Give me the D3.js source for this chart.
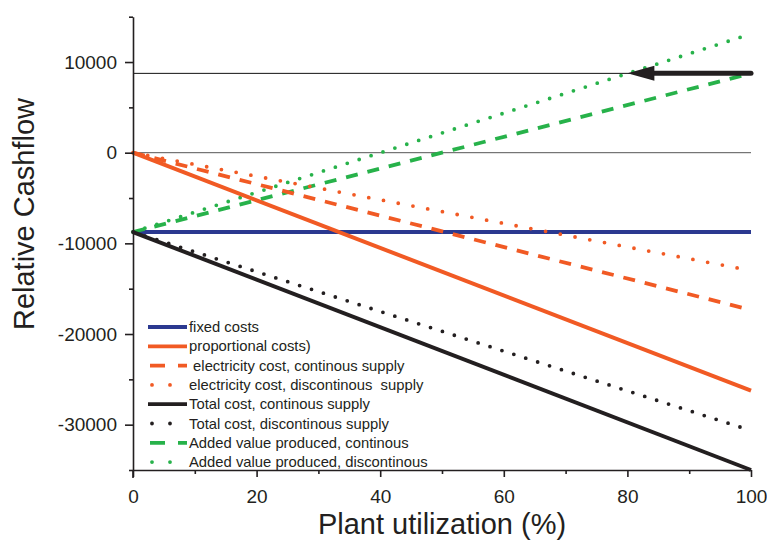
<!DOCTYPE html>
<html>
<head>
<meta charset="utf-8">
<script src="https://cdn.jsdelivr.net/npm/d3@7"></script>
<style>
  body { margin: 0; background: #fff; }
  svg { display: block; font-family: "Liberation Sans", Arial, sans-serif; }
</style>
</head>
<body>
<svg id="chart" width="767" height="542"></svg>
<script>
// Plant utilization (%) – all series are straight lines between 0 % and 100 %
const utilization = [0, 100];

const fixedCosts          = [-8750, -8750];
const proportionalCosts   = [0, -26250];
const elecCostCont        = [0, -17350];
const elecCostDisc        = [0, -13000];
const totalCostCont       = [-8750, -35000];
const totalCostDisc       = [-8750, -30650];
const addedValueCont      = [-8750, 8750];
const addedValueDisc      = [-8750, 13100];

const breakEvenLevel = 8750;   // added value at full continuous operation
const arrowTipUtil   = 80;     // where the discontinuous line reaches that level

const xTicks = [0, 20, 40, 60, 80, 100];
const yTicks = [10000, 0, -10000, -20000, -30000];

const legendLabels = [
  "fixed costs",
  "proportional costs)",
  " electricity cost, continous supply",
  "electricity cost, discontinous  supply",
  "Total cost, continous supply",
  "Total cost, discontinous supply",
  "Added value produced, continous",
  "Added value produced, discontinous"
];

const C = { blue: "#2b3990", orange: "#f15a24", black: "#231f20", green: "#27b24a" };

const series = [
  { name: legendLabels[0], values: fixedCosts,        color: C.blue,   style: "solid" },
  { name: legendLabels[6], values: addedValueCont,    color: C.green,  style: "dash" },
  { name: legendLabels[7], values: addedValueDisc,    color: C.green,  style: "dot" },
  { name: legendLabels[2], values: elecCostCont,      color: C.orange, style: "dash" },
  { name: legendLabels[3], values: elecCostDisc,      color: C.orange, style: "dotwide" },
  { name: legendLabels[1], values: proportionalCosts, color: C.orange, style: "solid" },
  { name: legendLabels[5], values: totalCostDisc,     color: C.black,  style: "dot" },
  { name: legendLabels[4], values: totalCostCont,     color: C.black,  style: "solid" }
];

const dashFor = { solid: null, dash: "12,10", dot: "0,12.5", dotwide: "0,15" };

const svg = d3.select("#chart");
const m = { left: 133, right: 751, top: 16.7, bottom: 470 };

const x = d3.scaleLinear().domain([0, 100]).range([m.left, m.right]);
const y = d3.scaleLinear().domain([-35000, 15000]).range([m.bottom, m.top]);

// reference lines
const g = svg.append("g");
g.append("line")
  .attr("x1", x(0)).attr("x2", x(100)).attr("y1", y(0)).attr("y2", y(0))
  .attr("stroke", "#555").attr("stroke-width", 1);
g.append("line")
  .attr("x1", x(0)).attr("x2", x(100)).attr("y1", y(breakEvenLevel)).attr("y2", y(breakEvenLevel))
  .attr("stroke", "#111").attr("stroke-width", 1);

// series lines
const line = d3.line().x((d, i) => x(utilization[i])).y(d => y(d));
series.forEach(s => {
  g.append("path")
    .attr("d", line(s.values))
    .attr("fill", "none")
    .attr("stroke", s.color)
    .attr("stroke-width", s.style === "solid" ? 4 : 3.8)
    .attr("stroke-linecap", s.style === "solid" || s.style === "dash" ? "butt" : "round")
    .attr("stroke-dasharray", dashFor[s.style]);
});

// arrow pointing to the break-even utilization
const arrowTailX = x(100), arrowTipX = x(arrowTipUtil), headLen = 27, headHalf = 7.5;
const ay = y(breakEvenLevel);
g.append("line")
  .attr("x1", arrowTailX).attr("x2", arrowTipX + headLen).attr("y1", ay).attr("y2", ay)
  .attr("stroke", C.black).attr("stroke-width", 5).attr("stroke-linecap", "round");
g.append("path")
  .attr("d", `M${arrowTipX},${ay} L${arrowTipX + headLen},${ay - headHalf} L${arrowTipX + headLen},${ay + headHalf} Z`)
  .attr("fill", C.black);

// axes (plain hyphen for negative numbers)
const axisColor = "#231f20";
const fmt = d => String(d);
svg.append("g").attr("transform", `translate(0,${m.bottom})`)
  .call(d3.axisBottom(x).tickValues(xTicks).tickSize(7).tickPadding(13).tickSizeOuter(0));
svg.append("g").attr("transform", `translate(0,${m.bottom})`)
  .call(d3.axisBottom(x).tickValues(d3.range(10, 100, 20)).tickSize(4).tickFormat("").tickSizeOuter(0))
  .select(".domain").remove();
svg.append("g").attr("transform", `translate(${m.left},0)`)
  .call(d3.axisLeft(y).tickValues(yTicks).tickSize(8).tickPadding(8).tickSizeOuter(0).tickFormat(fmt));
svg.append("g").attr("transform", `translate(${m.left},0)`)
  .call(d3.axisLeft(y).tickValues([15000, 5000, -5000, -15000, -25000, -35000]).tickSize(4).tickFormat("").tickSizeOuter(0))
  .select(".domain").remove();

// extend the y axis line slightly below the corner
svg.append("line").attr("x1", m.left).attr("x2", m.left).attr("y1", m.bottom).attr("y2", m.bottom + 8)
  .attr("stroke", axisColor).attr("stroke-width", 1.6);

svg.selectAll(".domain, .tick line").attr("stroke", axisColor).attr("stroke-width", 1.6);
svg.selectAll(".tick text").attr("fill", axisColor).style("font-size", "19px")
  .style("font-family", "'Liberation Sans', Arial, sans-serif");

// axis titles
svg.append("text")
  .attr("x", 442).attr("y", 534)
  .attr("text-anchor", "middle").attr("fill", axisColor)
  .style("font-size", "29px").text("Plant utilization (%)");
svg.append("text")
  .attr("transform", `translate(34,214) rotate(-90)`)
  .attr("text-anchor", "middle").attr("fill", axisColor)
  .style("font-size", "29px").text("Relative Cashflow");

// legend
const legendOrder = [
  { color: C.blue, style: "solid" },
  { color: C.orange, style: "solid" },
  { color: C.orange, style: "dash" },
  { color: C.orange, style: "dot" },
  { color: C.black, style: "solid" },
  { color: C.black, style: "dot" },
  { color: C.green, style: "dash" },
  { color: C.green, style: "dot" }
];
const lg = svg.append("g");
legendLabels.forEach((label, i) => {
  const ly = 327 + i * 19.3;
  const st = legendOrder[i];
  const seg = lg.append("line").attr("y1", ly).attr("y2", ly)
    .attr("stroke", st.color).attr("stroke-width", 3.8);
  if (st.style === "solid") {
    seg.attr("x1", 148).attr("x2", 187);
  } else if (st.style === "dash") {
    seg.attr("x1", 150).attr("x2", 187).attr("stroke-dasharray", "15,13");
  } else {
    seg.attr("x1", 152).attr("x2", 171).attr("stroke-dasharray", "0,18")
      .attr("stroke-linecap", "round");
  }
  lg.append("text").attr("x", 189).attr("y", ly + 5)
    .attr("fill", axisColor).style("font-size", "14.8px").style("white-space", "pre")
    .text(label);
});
</script>
</body>
</html>
